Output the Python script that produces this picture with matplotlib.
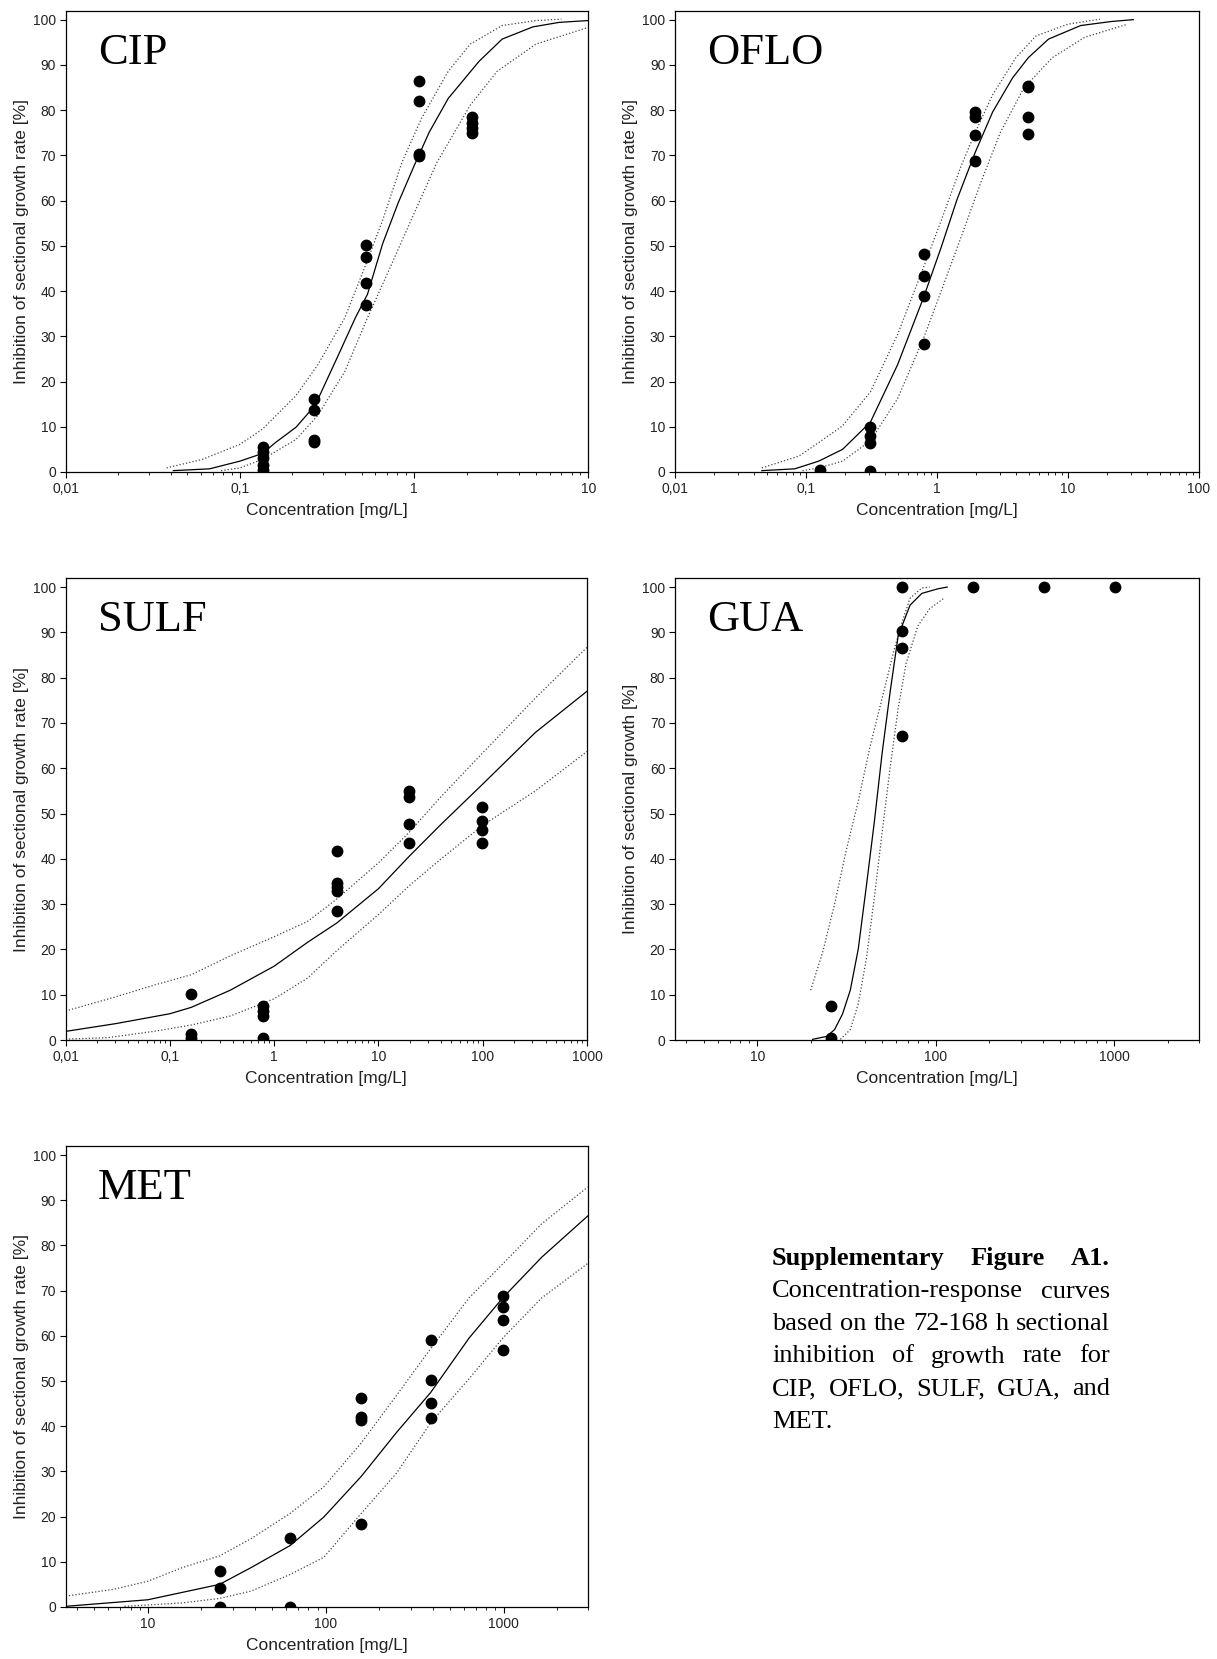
import matplotlib
matplotlib.use('Agg')
from matplotlib import pyplot as plt
from matplotlib.ticker import LogLocator, NullFormatter

plt.rcParams['font.family'] = ['Liberation Sans', 'DejaVu Sans']

# ---- CIP ----
cip_conc = [0.135, 0.135, 0.135, 0.135, 0.135, 0.268, 0.268, 0.268, 0.268,
            0.532, 0.532, 0.532, 0.532, 1.07, 1.07, 1.07, 1.07, 2.16, 2.16, 2.16, 2.16]
cip_inhib = [0.5, 1.5, 3.0, 4.5, 5.5, 16.2, 13.8, 7.0, 6.6,
             50.2, 47.5, 41.7, 37.0, 86.5, 82.0, 70.3, 69.8, 78.5, 77.2, 76.0, 75.0]
cip_fit_x = [0.0415, 0.067, 0.1, 0.135, 0.16, 0.21, 0.27, 0.36, 0.46, 0.54, 0.66, 0.81,
             1.0, 1.22, 1.57, 2.36, 3.2, 4.8, 6.8, 10]
cip_fit_y = [0.3, 0.7, 2.4, 4.1, 6.5, 9.9, 14.7, 25.1, 34.1, 39.3, 50.5, 59.5,
             67.7, 75.1, 82.6, 90.8, 95.7, 98.4, 99.4, 99.8]
cip_up_x = [0.038, 0.061, 0.1, 0.135, 0.21, 0.28, 0.40, 0.54, 0.66, 0.85, 1.1, 1.57,
            2.1, 3.2, 5.0, 7.0]
cip_up_y = [0.9, 2.8, 6.1, 9.5, 16.9, 23.7, 34.1, 46.8, 55.7, 68.4, 78.1, 88.6,
            94.6, 98.7, 99.8, 100.1]
cip_lo_x = [0.078, 0.1, 0.135, 0.21, 0.28, 0.40, 0.54, 0.73, 1.0, 1.35, 2.1, 3.0, 5.0, 10]
cip_lo_y = [0.3, 0.9, 2.8, 7.2, 12.5, 22.2, 34.1, 45.3, 57.2, 68.4, 81.1, 88.6, 94.6, 98.3]

# ---- OFLO ----
oflo_conc = [0.127, 0.308, 0.308, 0.308, 0.308, 0.79, 0.79, 0.79, 0.79,
             1.96, 1.96, 1.96, 1.96, 4.92, 4.92, 4.92, 4.92]
oflo_inhib = [0.5, 10.0, 8.0, 6.5, 0.3, 48.3, 43.4, 38.8, 28.3,
              79.6, 78.5, 74.6, 68.8, 85.4, 85.0, 78.5, 74.8]
oflo_fit_x = [0.046, 0.082, 0.125, 0.19, 0.31, 0.50, 0.79, 1.08, 1.42, 1.96, 2.66,
              3.77, 4.98, 7.1, 12.5, 21.6, 31.5]
oflo_fit_y = [0.3, 0.7, 2.4, 5.0, 11.0, 23.7, 38.6, 49.8, 60.2, 70.7, 79.6,
              87.1, 91.6, 95.7, 98.7, 99.6, 100.0]
oflo_up_x = [0.046, 0.088, 0.125, 0.19, 0.31, 0.50, 0.79, 1.08, 1.53, 1.96, 2.66,
             4.0, 5.7, 10, 17.5]
oflo_up_y = [0.9, 3.5, 6.5, 10.2, 17.7, 30.4, 45.3, 55.7, 67.7, 75.1, 83.4,
             91.6, 96.4, 99.0, 100.1]
oflo_lo_x = [0.094, 0.125, 0.19, 0.31, 0.50, 0.79, 1.08, 1.53, 2.16, 3.05, 4.6,
             7.6, 13.4, 28.5]
oflo_lo_y = [0.3, 0.9, 2.4, 6.9, 16.2, 29.6, 40.1, 52.0, 64.0, 75.1, 84.9,
             91.6, 96.1, 99.0]

# ---- SULF ----
sulf_conc = [0.16, 0.16, 0.16, 0.79, 0.79, 0.79, 0.79, 3.97, 3.97, 3.97, 3.97, 3.97,
             19.8, 19.8, 19.8, 19.8, 99.5, 99.5, 99.5, 99.5]
sulf_inhib = [10.1, 1.3, 0.4, 7.4, 6.4, 5.3, 0.5, 41.7, 34.7, 33.8, 32.8, 28.5,
              54.9, 53.6, 47.6, 43.6, 51.4, 48.4, 46.3, 43.6]
sulf_fit_x = [0.01, 0.03, 0.1, 0.16, 0.38, 1, 2.1, 3.97, 10, 19.8, 39, 100, 320, 1000]
sulf_fit_y = [1.9, 3.6, 5.8, 7.2, 11.0, 16.3, 21.6, 25.8, 33.4, 40.6, 47.4, 56.5, 67.9, 77.0]
sulf_up_x = [0.01, 0.03, 0.07, 0.16, 0.38, 1, 2.1, 3.97, 10, 19.8, 39, 100, 320, 1000]
sulf_up_y = [6.4, 9.5, 12.1, 14.4, 18.6, 22.8, 26.2, 31.1, 39.1, 45.9, 53.5, 63.4, 75.5, 86.7]
sulf_lo_x = [0.01, 0.025, 0.07, 0.16, 0.38, 1, 2.1, 3.97, 10, 19.8, 39, 100, 320, 1000]
sulf_lo_y = [0.2, 0.5, 1.9, 3.3, 5.3, 9.1, 13.7, 19.7, 27.7, 34.1, 39.8, 47.4, 55.0, 63.7]

# ---- GUA ----
gua_conc = [25.8, 25.8, 64.7, 64.7, 64.7, 64.7, 162.6, 404, 1016]
gua_inhib = [7.4, 0.5, 100, 90.3, 86.5, 67.1, 100, 100, 100]
gua_fit_x = [20.4, 24.5, 27.1, 30.0, 33.2, 36.8, 40.8, 45.3, 50.1, 55.6, 61.6,
             71.8, 83.6, 102.6, 116]
gua_fit_y = [0.15, 0.8, 2.3, 5.7, 11.0, 20.1, 33.8, 48.2, 63.4, 77.0, 89.2,
             96.0, 98.6, 99.6, 100.0]
gua_up_x = [19.9, 23.2, 27.1, 31.6, 36.8, 42.9, 50.1, 58.4, 64.7, 71.8, 83.6, 92.5]
gua_up_y = [11.0, 19.3, 30.0, 42.1, 52.7, 64.9, 75.5, 86.1, 92.2, 97.5, 99.8, 100.0]
gua_lo_x = [29.2, 33.2, 36.8, 40.8, 45.3, 50.1, 55.6, 61.6, 68.2, 79.4, 92.5, 111]
gua_lo_y = [0.15, 2.3, 8.0, 17.8, 31.5, 45.9, 60.3, 73.2, 83.1, 91.4, 95.2, 97.5]

# ---- MET ----
met_conc = [25.3, 25.3, 25.3, 63.1, 63.1, 158.5, 158.5, 158.5, 158.5,
            390, 390, 390, 390, 990, 990, 990, 990]
met_inhib = [8.0, 4.3, 0.1, 15.2, 0.1, 46.3, 42.1, 41.4, 18.3,
             59.0, 50.3, 45.1, 41.8, 68.8, 66.3, 63.6, 56.9]
met_fit_x = [3.45, 10, 25.3, 38, 63.1, 97.6, 158.5, 250, 390, 640, 990, 1640, 2970]
met_fit_y = [0.15, 1.6, 5.0, 8.7, 13.6, 19.9, 28.9, 38.6, 47.5, 59.5, 68.4, 77.4, 86.5]
met_up_x = [3.45, 6.4, 10, 15.6, 25.3, 38, 63.1, 97.6, 158.5, 250, 390, 640, 990, 1640, 2970]
met_up_y = [2.4, 3.9, 5.7, 8.7, 11.3, 15.1, 20.7, 26.6, 36.3, 46.8, 57.2, 68.4, 75.9, 84.8, 92.9]
met_lo_x = [7.4, 15.6, 25.3, 38, 63.1, 97.6, 158.5, 250, 390, 640, 990, 1640, 2970]
met_lo_y = [0.15, 0.9, 1.9, 3.5, 7.2, 11.0, 20.7, 29.6, 40.8, 50.5, 59.5, 68.4, 76.0]

yticks = [0, 10, 20, 30, 40, 50, 60, 70, 80, 90, 100]
ticks_cip = [0.01, 0.1, 1, 10]
labels_cip = ['0,01', '0,1', '1', '10']
ticks_oflo = [0.01, 0.1, 1, 10, 100]
labels_oflo = ['0,01', '0,1', '1', '10', '100']
ticks_sulf = [0.01, 0.1, 1, 10, 100, 1000]
labels_sulf = ['0,01', '0,1', '1', '10', '100', '1000']
ticks_high = [10, 100, 1000]
labels_high = ['10', '100', '1000']

ylab = 'Inhibition of sectional growth rate [%]'
ylab_gua = 'Inhibition of sectional growth [%]'
caption_lines = [
    'Supplementary Figure A1.',
    'Concentration-response curves',
    'based on the 72-168 h sectional',
    'inhibition of growth rate for',
    'CIP, OFLO, SULF, GUA, and',
    'MET.',
]

W, H = 1217, 1659
fig = plt.figure(figsize=(W / 100, H / 100), dpi=100)


def px_axes(left, top, right, bottom):
    return fig.add_axes([left / W, 1 - bottom / H, (right - left) / W, (bottom - top) / H])


def panel(ax, name, px, py, fx, fy, ux, uy, lx, ly, xlim, xt, xtl, ylabel):
    ax.plot(ux, uy, ls=':', color='#444444', lw=0.9)
    ax.plot(lx, ly, ls=':', color='#444444', lw=0.9)
    ax.plot(fx, fy, color='black', lw=0.9)
    ax.plot(px, py, 'o', ms=7.5, color='black', zorder=5)
    ax.set_xscale('log')
    ax.set_xlim(xlim)
    ax.set_ylim(0, 102)
    ax.set_xticks(xt, xtl)
    ax.xaxis.set_minor_locator(LogLocator(base=10, subs=range(2, 10)))
    ax.xaxis.set_minor_formatter(NullFormatter())
    ax.set_yticks(yticks)
    ax.tick_params(axis='both', which='major', direction='out', length=4, width=0.8,
                   labelsize=10, labelcolor='#222222', pad=3)
    ax.tick_params(axis='x', which='minor', direction='out', length=2.5, width=0.6)
    for s in ax.spines.values():
        s.set_linewidth(0.9)
    ax.set_xlabel('Concentration [mg/L]', fontsize=12.5, color='#222222', labelpad=5)
    ax.set_ylabel(ylabel, fontsize=12.5, color='#222222', labelpad=3)
    ax.text(0.062, 0.885, name, transform=ax.transAxes, fontsize=32,
            family='Liberation Serif', va='baseline', ha='left')


ax1 = px_axes(65.6, 10.6, 588.4, 472)
panel(ax1, 'CIP', cip_conc, cip_inhib, cip_fit_x, cip_fit_y, cip_up_x, cip_up_y,
      cip_lo_x, cip_lo_y, (0.01, 10), ticks_cip, labels_cip, ylab)

ax2 = px_axes(675, 10.6, 1199, 472)
panel(ax2, 'OFLO', oflo_conc, oflo_inhib, oflo_fit_x, oflo_fit_y, oflo_up_x, oflo_up_y,
      oflo_lo_x, oflo_lo_y, (0.01, 100), ticks_oflo, labels_oflo, ylab)

ax3 = px_axes(65.6, 578, 587, 1040)
panel(ax3, 'SULF', sulf_conc, sulf_inhib, sulf_fit_x, sulf_fit_y, sulf_up_x, sulf_up_y,
      sulf_lo_x, sulf_lo_y, (0.01, 1000), ticks_sulf, labels_sulf, ylab)

ax4 = px_axes(675, 578, 1199, 1040)
panel(ax4, 'GUA', gua_conc, gua_inhib, gua_fit_x, gua_fit_y, gua_up_x, gua_up_y,
      gua_lo_x, gua_lo_y, (3.45, 3000), ticks_high, labels_high, ylab_gua)

ax5 = px_axes(65.6, 1146, 588.4, 1607)
panel(ax5, 'MET', met_conc, met_inhib, met_fit_x, met_fit_y, met_up_x, met_up_y,
      met_lo_x, met_lo_y, (3.45, 3000), ticks_high, labels_high, ylab)

# justified caption
x_left, x_right = 772, 1110
base0, step = 1265, 32.5
fig.canvas.draw()
renderer = fig.canvas.get_renderer()
for i, line in enumerate(caption_lines):
    words = line.split()
    y = 1 - (base0 + i * step) / H
    weight = 'bold' if i == 0 else 'normal'
    texts = [fig.text(0, y, w, fontsize=19, family='Liberation Serif', weight=weight,
                      va='baseline', ha='left') for w in words]
    widths = [t.get_window_extent(renderer).width for t in texts]
    if len(words) > 1 and i < len(caption_lines) - 1:
        gap = (x_right - x_left - sum(widths)) / (len(words) - 1)
    else:
        gap = 0
    x = x_left
    for t, w in zip(texts, widths):
        t.set_x(x / W)
        x += w + gap

fig.savefig('out.png', dpi=100)
